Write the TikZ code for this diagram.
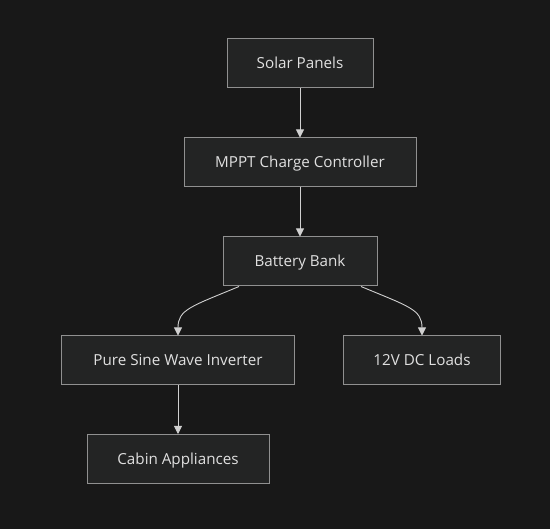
\documentclass[tikz,border=0pt]{standalone}
\usepackage{fontspec}
\setmainfont{Open Sans}
\usetikzlibrary{arrows.meta}
\definecolor{bgc}{HTML}{181818}
\definecolor{boxfill}{HTML}{232424}
\definecolor{boxline}{HTML}{909090}
\definecolor{txt}{HTML}{E0E0E0}
\definecolor{edge}{HTML}{D0D0D0}
\begin{document}
\begin{tikzpicture}[x=1pt,y=-1pt,
  box/.style={draw=boxline, fill=boxfill, line width=1pt, text=txt, inner sep=0pt,
    font=\fontsize{15.2}{17}\selectfont, text height=14pt, text depth=3pt, minimum height=49pt},
  link/.style={draw=edge, line width=0.9pt, -{Triangle[length=8pt,width=8pt]}}]
\fill[bgc] (0,0) rectangle (550,529);
\useasboundingbox (0,0) rectangle (550,529);
\node[box, minimum width=146pt] (solar) at (300,63.5) {Solar Panels};
\node[box, minimum width=232pt] (mppt) at (300,162.5) {MPPT Charge Controller};
\node[box, minimum width=154pt] (bat) at (300,261.5) {Battery Bank};
\node[box, minimum width=233pt] (inv) at (178,360.5) {Pure Sine Wave Inverter};
\node[box, minimum width=157pt] (dc) at (422,360.5) {12V DC Loads};
\node[box, minimum width=182pt] (cab) at (178,459) {Cabin Appliances};
\draw[link] (solar) -- (mppt);
\draw[link] (mppt) -- (bat);
\draw[link] ([xshift=-61pt]bat.south) .. controls +(-48,20) and +(0,-26) .. (inv.north);
\draw[link] ([xshift=61pt]bat.south) .. controls +(48,20) and +(0,-26) .. (dc.north);
\draw[link] (inv) -- (cab);
\end{tikzpicture}
\end{document}
